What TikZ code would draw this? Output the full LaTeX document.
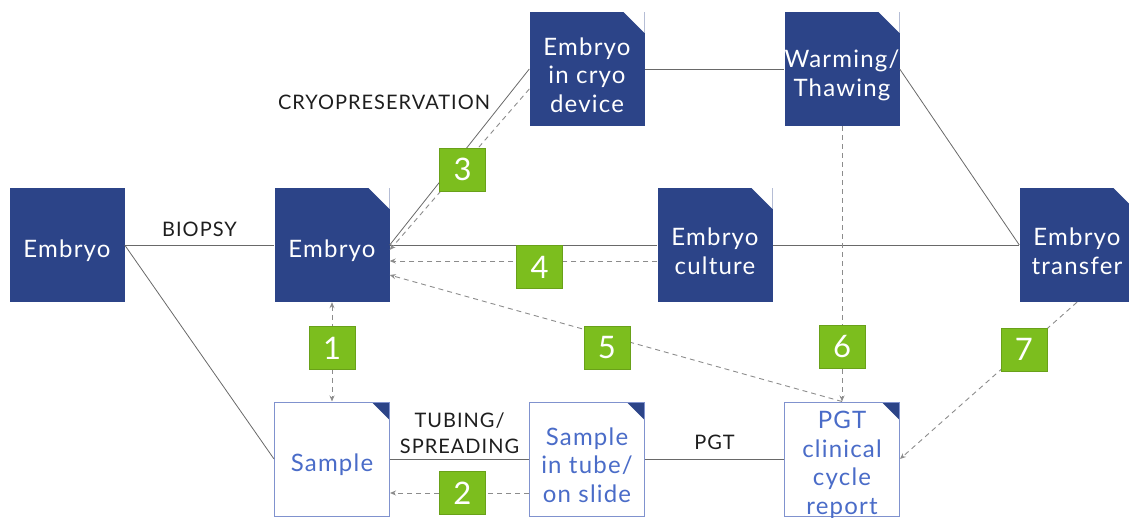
\documentclass[tikz,border=0pt]{standalone}
\usepackage{fontspec}
\setmainfont{Lato}[LetterSpace=5]
\usepackage{tikz}
\usetikzlibrary{arrows.meta,positioning}

\definecolor{navy}{RGB}{44,68,136}
\definecolor{sky}{RGB}{74,108,200}
\definecolor{edge}{RGB}{128,146,206}
\definecolor{leaf}{RGB}{124,190,30}
\definecolor{linegray}{RGB}{105,105,105}
\definecolor{dashgray}{RGB}{140,140,140}
\definecolor{ink}{RGB}{30,30,30}

\newcommand{\boxtextfont}{\fontsize{24}{28.5}\selectfont}
\newcommand{\steptextfont}{\fontsize{20}{26}\selectfont}
\newcommand{\greenfont}{\fontsize{31}{31}\selectfont}
\newcommand{\up}{\rule{0pt}{30pt}}

\begin{document}
\begin{tikzpicture}[x=1pt, y=-1pt,
    >={Stealth[length=6pt,width=5pt]},
    plainbox/.style={rectangle, fill=navy, text=white, minimum width=115pt,
        minimum height=114pt, inner sep=0pt, align=center, font=\boxtextfont},
    darkbox/.style={plainbox,
        path picture={\fill[white] ([xshift=-21pt]path picture bounding box.north east)
            -- (path picture bounding box.north east)
            -- ([yshift=-21pt]path picture bounding box.north east) -- cycle;}},
    lightbox/.style={plainbox, fill=white, draw=edge, line width=1pt, text=sky,
        path picture={\fill[navy] ([xshift=-18pt]path picture bounding box.north east)
            -- (path picture bounding box.north east)
            -- ([yshift=-18pt]path picture bounding box.north east) -- cycle;}},
    num/.style={rectangle, solid, fill=leaf, draw=leaf!85!black, line width=0.4pt,
        text=white, minimum width=46pt, minimum height=43pt, inner sep=0pt,
        font=\greenfont},
    link/.style={draw=linegray, line width=0.8pt},
    flow/.style={draw=dashgray, line width=0.9pt, dash pattern=on 5pt off 4pt, ->},
    tag/.style={text=ink, font=\steptextfont}]

    \useasboundingbox (0,0) rectangle (1129,518);

    % Boxes
    \node[plainbox] (embryo0) at (67,245) {\up Embryo};
    \node[darkbox] (embryo) at (332,245) {\up Embryo};
    \node[darkbox] (cryo) at (587,69) {\up Embryo\\in cryo\\device};
    \node[darkbox] (warming) at (842,69) {\up Warming/\\Thawing};
    \node[darkbox] (culture) at (715,245) {\up Embryo\\culture};
    \node[darkbox] (transfer) at (1077,245) {\up Embryo\\transfer};
    \node[lightbox] (sample) at (332,459) {\up Sample};
    \node[lightbox] (tube) at (587,459) {\up Sample\\in tube/\\on slide};
    \node[lightbox, label={[name=reporttext, text=sky, align=center,
        font=\boxtextfont, yshift=-6pt]center:PGT\\clinical\\cycle\\report}]
        (report) at (842,459) {};

    % Steps
    \draw[link] (embryo0.east) -- node[tag, above=5pt] (biopsy) {BIOPSY} (embryo.west);
    \draw[link] (embryo0.east) -- (sample.west);
    \draw[link] (embryo.east) -- node[tag, pos=0.81, anchor=east, xshift=-9pt]
        (cryolabel) {CRYOPRESERVATION} (cryo.west);
    \draw[link] (embryo.east) -- (culture.west);
    \draw[link] (culture.east) -- (transfer.west);
    \draw[link] (cryo.east) -- (warming.west);
    \draw[link] (warming.east) -- (transfer.west);
    \draw[link] (sample.east) -- node[tag, above=2pt, align=center]
        (tubing) {TUBING/\\SPREADING} (tube.west);
    \draw[link] (tube.east) -- node[tag, above=6pt] (pgt) {PGT} (report.west);

    % Numbered flows
    \draw[flow, <->] (embryo.south) -- node[num, pos=0.46] (n1) {1} (sample.north);
    \draw[flow] ([yshift=-34pt]tube.west) -- node[num, pos=0.48] (n2) {2} ([yshift=-34pt]sample.east);
    \draw[flow] ([yshift=-20pt]cryo.west) -- node[num, pos=0.5, xshift=3pt] (n3) {3} ([yshift=-5pt]embryo.east);
    \draw[flow] ([yshift=-16pt]culture.west) -- node[num, pos=0.44, yshift=-6pt] (n4) {4} ([yshift=-16pt]embryo.east);
    \draw[flow] (report.north) -- node[num, pos=0.52, yshift=-12pt] (n5) {5} ([yshift=-30pt]embryo.east);
    \draw[flow] (warming.south) -- node[num, pos=0.8] (n6) {6} (report.north);
    \draw[flow] (transfer.south) -- node[num, pos=0.3] (n7) {7} (report.east);
\end{tikzpicture}
\end{document}
